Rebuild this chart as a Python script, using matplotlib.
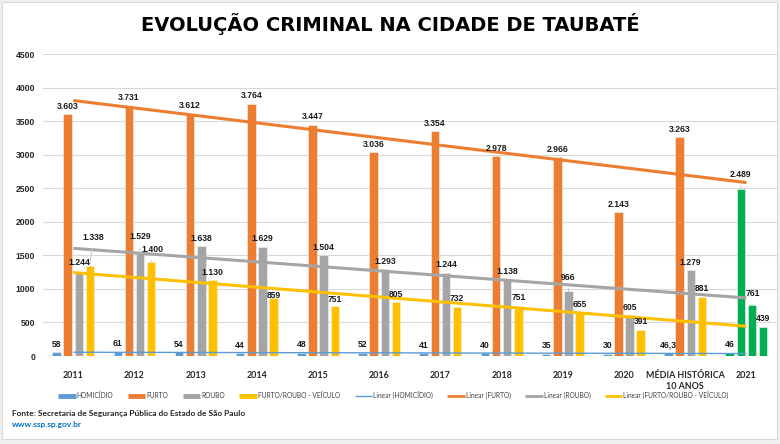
import numpy as np
import matplotlib
matplotlib.use("Agg")
import matplotlib.pyplot as plt
from matplotlib.patches import Rectangle
from matplotlib.lines import Line2D

# Dados
categorias = ['2011', '2012', '2013', '2014', '2015', '2016', '2017', '2018',
              '2019', '2020', 'MÉDIA HISTÓRICA\n10 ANOS', '2021']
homicidio = [58, 61, 54, 44, 48, 52, 41, 40, 35, 30, 46.3, 46]
furto = [3603, 3731, 3612, 3764, 3447, 3036, 3354, 2978, 2966, 2143, 3263, 2489]
roubo = [1244, 1529, 1638, 1629, 1504, 1293, 1244, 1138, 966, 605, 1279, 761]
veiculo = [1338, 1400, 1130, 859, 751, 805, 732, 751, 655, 391, 881, 439]
nomes = ['HOMICÍDIO', 'FURTO', 'ROUBO', 'FURTO/ROUBO - VEÍCULO']
yticks = [0, 500, 1000, 1500, 2000, 2500, 3000, 3500, 4000, 4500]

cores = ['#5B9BD5', '#ED7D31', '#A5A5A5', '#FFC000']
verde = '#00B050'
larg_trend = [1.0, 2.2, 2.2, 2.2]

# ajustes manuais dos rótulos (serie, categoria) -> (dx px, dy px)
ajustes = {(3, 0): (3, 29), (2, 0): (1, 10), (2, 1): (0, 17), (3, 1): (1, 13),
           (3, 3): (0, 3), (3, 4): (0, 6), (2, 8): (0, 14), (2, 11): (1, 11),
           (1, 11): (0, 15)}


def fmt(v):
    if v != int(v):
        return f"{v:.1f}".replace('.', ',')
    return f"{int(v):,}".replace(',', '.')


fig = plt.figure(figsize=(7.8, 4.44), dpi=100, facecolor='#EFEFEF')
fig.patches.append(Rectangle((1.5 / 780, 1 - 439 / 444), 775 / 780, 437 / 444,
                             transform=fig.transFigure, facecolor='white',
                             edgecolor='#D9D9D9', lw=0.8, zorder=-10))

ax = fig.add_axes([42.7 / 780, 88 / 444, 734.3 / 780, 301.7 / 444])
ax.set_facecolor('none')

x = np.arange(len(categorias))
series = [homicidio, furto, roubo, veiculo]
passo = 0.182
w = 0.139
for s, vals in enumerate(series):
    pos = x + (s - 1.5) * passo
    cols = [cores[s]] * (len(x) - 1) + [verde]
    ax.bar(pos, vals, w, color=cols, edgecolor='#F2F2F2', lw=0.4, zorder=2)
    for i, v in enumerate(vals):
        dx, dy = ajustes.get((s, i), (0, 8))
        kw = {}
        if dy >= 12:
            kw['arrowprops'] = dict(arrowstyle='-', color='#BFBFBF', lw=0.6,
                                    shrinkA=3, shrinkB=0)
        ax.annotate(fmt(v), (pos[i], v), xytext=(dx * 0.72, dy * 0.72),
                    textcoords='offset points', ha='center', va='center',
                    fontsize=6.2, fontweight='bold', family='Liberation Sans',
                    color='#1A1A1A', zorder=5, **kw)

# linhas de tendência (linear)
for s, vals in enumerate(series):
    a, b = np.polyfit(x, vals, 1)
    ax.plot(x, a * x + b, color=cores[s], lw=larg_trend[s], zorder=4,
            solid_capstyle='butt')

ax.set_xlim(-0.5, 11.5)
ax.set_ylim(0, 4500)
ax.set_yticks(yticks)
ax.set_yticklabels([str(t) for t in yticks], fontsize=6.2, fontweight='bold',
                   family='Liberation Sans', color='#262626')
ax.set_xticks(x)
ax.set_xticklabels(categorias, fontsize=6.4, fontweight='bold',
                   family='Lato', color='#262626', linespacing=1.3)
ax.tick_params(axis='y', length=0, pad=5.5)
ax.tick_params(axis='x', length=0, pad=10.5)
ax.grid(axis='y', color='#D9D9D9', lw=0.8, zorder=0)
ax.set_axisbelow(True)
for sp in ax.spines.values():
    sp.set_visible(False)

fig.text(0.5, 1 - 24 / 444, 'EVOLUÇÃO CRIMINAL NA CIDADE DE TAUBATÉ',
         ha='center', va='center', fontsize=14, fontweight='bold',
         family='DejaVu Sans', color='black')

handles = [Line2D([], [], color=c, lw=3.5, solid_capstyle='butt') for c in cores]
handles += [Line2D([], [], color=c, lw=l, solid_capstyle='butt')
            for c, l in zip(cores, [1.0, 2.0, 2.0, 2.0])]
labels = nomes + [f'Linear ({n})' for n in nomes]
fig.legend(handles, labels, loc='center', bbox_to_anchor=(393.5 / 780, 1 - 395 / 444),
           ncol=8, frameon=False, handlelength=2.6, handletextpad=0.15,
           columnspacing=2.2, prop={'family': 'Lato', 'size': 4.8},
           labelcolor='#404040')

fig.text(12 / 780, 1 - 413 / 444,
         'Fonte: Secretaria de Segurança Pública do Estado de São Paulo',
         ha='left', va='center', fontsize=6.0, fontweight='bold',
         family='Lato', color='#262626')
fig.text(12 / 780, 1 - 424 / 444, 'www.ssp.sp.gov.br', ha='left', va='center',
         fontsize=6.0, fontweight='bold', family='Lato', color='#0070C0')

fig.savefig('out.png', dpi=100, facecolor=fig.get_facecolor())
